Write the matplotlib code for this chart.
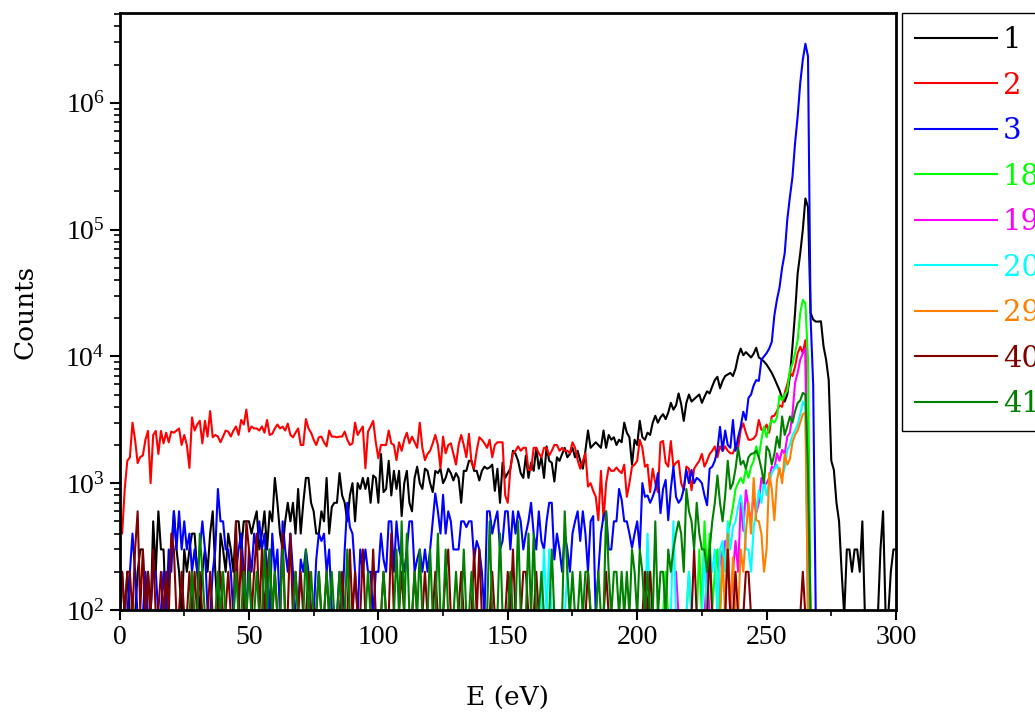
import numpy as np
import matplotlib
matplotlib.use("Agg")
import matplotlib.pyplot as plt
from matplotlib.ticker import MultipleLocator, LogLocator, NullFormatter

# counts per 1 eV bin
E_1 = np.arange(0, 301)
counts_1 = [
    200, 200, 0, 200, 0, 100, 0, 200, 300, 300,
    0, 200, 0, 500, 200, 600, 300, 300, 0, 200,
    300, 600, 300, 200, 0, 300, 200, 300, 400, 400,
    200, 0, 200, 300, 200, 400, 600, 200, 0, 400,
    300, 200, 400, 300, 200, 500, 500, 300, 500, 500,
    500, 400, 500, 600, 300, 400, 600, 300, 600, 500,
    1100, 700, 400, 300, 500, 700, 500, 700, 400, 900,
    400, 700, 1100, 1100, 700, 600, 400, 400, 600, 500,
    1100, 400, 650, 700, 700, 1200, 800, 700, 500, 800,
    1000, 500, 1000, 900, 1100, 900, 1100, 700, 1150, 1100,
    700, 1700, 850, 900, 1500, 800, 1250, 900, 1250, 550,
    1000, 1250, 700, 600, 1100, 1350, 1000, 900, 1300, 1250,
    1000, 850, 1250, 1200, 1300, 1000, 1100, 1300, 1200, 1050,
    1200, 1100, 700, 1250, 1250, 1500, 1500, 1250, 1250, 1050,
    1250, 1350, 1300, 1330, 1400, 870, 1300, 700, 1450, 1100,
    1200, 1300, 1800, 1700, 1500, 1200, 1100, 1650, 1100, 1450,
    1250, 1900, 1300, 1600, 1100, 1950, 1500, 1450, 1030, 1600,
    1500, 1700, 1900, 1600, 1700, 1900, 1600, 1800, 1500, 1300,
    1800, 2600, 1900, 2000, 2100, 2000, 1900, 2600, 1900, 2400,
    2200, 2300, 2000, 2200, 2100, 3000, 2500, 2300, 1400, 2200,
    2000, 3100, 2300, 2200, 2500, 2400, 3000, 3400, 3000, 3300,
    3500, 3200, 3600, 4300, 3800, 4100, 5100, 4200, 3100, 4300,
    5000, 4400, 4600, 4800, 5000, 4300, 4800, 5300, 5100, 5800,
    6500, 6900, 5600, 6400, 7000, 7200, 7400, 7000, 8000, 10000,
    11500, 10200, 10800, 10300, 9800, 10500, 11700, 9800, 9500, 9100,
    8600, 8000, 7400, 6700, 6000, 5400, 4700, 4400, 5000, 7000,
    12000, 22000, 45000, 65000, 100000, 176000, 150000, 22000, 19500, 18800,
    18800, 18900, 12000, 9400, 6500, 1500, 1270, 700, 500, 200,
    0, 300, 300, 200, 300, 300, 200, 500, 0, 0,
    0, 0, 0, 0, 300, 600, 0, 0, 200, 300,
    300,
]

E_2 = np.arange(0, 268)
counts_2 = [
    780, 400, 900, 1500, 1600, 3000, 2200, 1440, 1610, 1650,
    2200, 2580, 1000, 2400, 2580, 1700, 2580, 2060, 2500, 2100,
    2550, 2500, 2600, 2700, 2000, 2400, 2000, 1320, 3300, 2600,
    2900, 3100, 2060, 3100, 2330, 3700, 2300, 2400, 2330, 2100,
    2330, 2600, 2550, 2330, 2600, 2800, 2400, 3150, 2900, 3800,
    2550, 2800, 2700, 2700, 2600, 2800, 2500, 3150, 2400, 2450,
    2700, 2900, 2700, 2790, 2600, 2950, 2400, 2300, 2500, 2700,
    2000, 2000, 3200, 2700, 2500, 2200, 2000, 2300, 2330, 2100,
    1950, 2600, 2330, 2330, 2300, 2330, 2330, 2550, 2200, 2000,
    2060, 3000, 2400, 2600, 2800, 1310, 2550, 2800, 3100, 2100,
    1570, 2000, 2000, 2000, 2600, 2060, 2000, 1520, 2100, 1800,
    2200, 2500, 2060, 2330, 2100, 1900, 3000, 1900, 1520, 1700,
    1800, 2060, 2400, 2000, 1310, 2330, 1720, 2000, 2060, 1700,
    1400, 2000, 2400, 2000, 1600, 2450, 1450, 1310, 1800, 2300,
    2200, 2060, 1900, 2200, 1600, 2000, 2100, 2100, 2100, 800,
    700, 1300, 1720, 1800, 1950, 1800, 1900, 1900, 1270, 1270,
    1900, 1900, 1720, 1600, 1900, 1900, 1650, 1800, 2000, 2000,
    1800, 1900, 1800, 1800, 1720, 2100, 1900, 1520, 1300, 1500,
    1720, 940, 1000, 870, 780, 510, 1250, 510, 1000, 1330,
    1250, 1250, 1330, 1250, 1200, 1400, 780, 1000, 1350, 1400,
    1500, 2200, 1900, 1350, 1400, 850, 1300, 1000, 850, 2100,
    2150, 1450, 1350, 2150, 1350, 1450, 1500, 1000, 880, 1350,
    1300, 880, 1300, 1400, 1500, 1700, 1350, 1500, 1700, 1800,
    1950, 1600, 1950, 1800, 1950, 1800, 1720, 1720, 1950, 1900,
    2640, 2960, 2500, 2200, 2200, 2250, 2400, 3150, 2640, 2600,
    2900, 2500, 3360, 3400, 3700, 4100, 4000, 5150, 6000, 7400,
    7000, 8300, 10600, 11900, 10600, 13400, 400, 0,
]

E_3 = np.arange(0, 270)
counts_3 = [
    0, 100, 0, 0, 200, 400, 200, 0, 100, 0,
    200, 0, 100, 200, 200, 0, 100, 200, 0, 300,
    200, 600, 300, 600, 300, 500, 300, 400, 200, 300,
    200, 300, 500, 300, 100, 0, 200, 300, 900, 500,
    500, 300, 300, 200, 0, 200, 300, 400, 200, 0,
    300, 200, 400, 300, 500, 300, 400, 200, 0, 400,
    200, 300, 0, 500, 300, 200, 400, 200, 0, 100,
    250, 200, 300, 200, 100, 0, 250, 400, 350, 400,
    200, 300, 100, 0, 0, 200, 0, 300, 700, 450,
    400, 200, 0, 300, 200, 300, 200, 200, 0, 200,
    200, 400, 250, 200, 500, 500, 200, 500, 300, 250,
    200, 300, 500, 500, 200, 250, 300, 200, 300, 200,
    300, 500, 830, 600, 400, 810, 400, 600, 500, 300,
    300, 300, 500, 500, 450, 500, 500, 250, 350, 300,
    200, 0, 600, 600, 400, 500, 600, 300, 350, 600,
    600, 300, 600, 400, 600, 500, 300, 400, 500, 700,
    400, 300, 600, 350, 300, 500, 700, 700, 250, 400,
    300, 200, 400, 300, 200, 400, 500, 600, 350, 600,
    400, 200, 500, 550, 0, 200, 400, 550, 600, 300,
    300, 500, 500, 900, 740, 500, 500, 400, 310, 400,
    500, 300, 1000, 780, 800, 700, 780, 900, 1200, 580,
    900, 1060, 510, 900, 1350, 780, 700, 750, 900, 1270,
    1000, 1270, 1000, 1100, 1060, 1000, 800, 670, 1300, 1350,
    1500, 1830, 2780, 1800, 2600, 2000, 1900, 3150, 1800, 2300,
    2800, 3660, 3150, 4700, 5000, 5900, 6500, 6400, 9400, 10000,
    10600, 11500, 13000, 21000, 28000, 35000, 50000, 65000, 120000, 180000,
    260000, 480000, 780000, 1430000, 2190000, 2920000, 2320000, 20000, 6000, 0,
]

E_18 = np.arange(200, 268)
counts_18 = [
    0, 0, 0, 0, 0, 200, 0, 0, 0, 0,
    0, 200, 0, 0, 0, 100, 0, 0, 0, 0,
    200, 0, 100, 0, 300, 0, 500, 200, 400, 100,
    200, 300, 0, 300, 300, 400, 500, 650, 900, 1000,
    1100, 1000, 1300, 1100, 1350, 1500, 1950, 1600, 2200, 2800,
    2300, 2800, 3150, 3000, 3300, 4900, 4500, 5000, 5350, 7800,
    8700, 10600, 13400, 22000, 27900, 26000, 9400, 0,
]

E_19 = np.arange(215, 267)
counts_19 = [
    200, 0, 0, 0, 0,
    0, 0, 0, 0, 0, 0, 0, 200, 0, 0,
    0, 0, 300, 200, 350, 300, 0, 200, 350, 200,
    700, 420, 880, 640, 500, 800, 580, 700, 1100, 950,
    1000, 1100, 1350, 1300, 1720, 1500, 1830, 1700, 2330, 2500,
    3500, 6200, 7400, 9400, 10600, 11500, 0,
]

E_20 = np.arange(160, 267)
counts_20 = [
    0, 0, 0, 0, 300, 0, 300, 0, 0, 0,
    0, 0, 0, 200, 0, 0, 0, 0, 0, 0,
    0, 0, 0, 0, 0, 0, 0, 0, 0, 0,
    0, 0, 0, 0, 0, 0, 0, 0, 0, 0,
    0, 0, 0, 0, 400, 0, 0, 0, 0, 0,
    0, 0, 0, 0, 500, 0, 0, 0, 0, 0,
    200, 0, 0, 0, 0, 0, 300, 0, 300, 200,
    300, 0, 300, 350, 200, 500, 300, 450, 500, 650,
    800, 600, 300, 300, 200, 450, 600, 880, 700, 1060,
    800, 1000, 1200, 1300, 1400, 1200, 1130, 1320, 1830, 2000,
    2400, 2600, 2900, 3500, 4400, 4000, 0,
]

E_29 = np.arange(230, 267)
counts_29 = [
    0, 0, 0, 260, 0, 400, 0, 260, 0, 0,
    300, 200, 400, 700, 400, 1100, 510, 500, 400, 200,
    300, 1200, 900, 510, 1060, 1320, 1000, 1700, 1400, 1550,
    2100, 2400, 2600, 3000, 3500, 3600, 0,
]

E_40 = np.arange(0, 266)
counts_40 = [
    0, 200, 0, 200, 200, 0, 300, 600, 100, 300,
    0, 200, 0, 300, 0, 100, 200, 0, 200, 0,
    400, 300, 0, 100, 200, 0, 0, 200, 0, 200,
    0, 200, 0, 100, 0, 200, 0, 0, 100, 200,
    0, 100, 200, 0, 0, 500, 0, 300, 0, 500,
    300, 0, 200, 400, 0, 300, 0, 200, 300, 0,
    200, 0, 0, 400, 0, 100, 400, 0, 200, 0,
    200, 0, 0, 200, 0, 0, 100, 200, 0, 0,
    200, 0, 0, 0, 100, 0, 200, 0, 0, 300,
    0, 200, 0, 0, 300, 0, 0, 100, 300, 0,
    0, 0, 200, 0, 0, 400, 0, 0, 100, 200,
    0, 0, 0, 0, 200, 0, 0, 0, 200, 0,
    0, 0, 200, 0, 0, 0, 200, 300, 0, 0,
    0, 100, 200, 0, 0, 0, 0, 300, 0, 300,
    0, 0, 0, 0, 200, 0, 0, 0, 0, 0,
    200, 0, 300, 0, 0, 0, 200, 200, 0, 0,
    0, 200, 0, 0, 0, 0, 0, 0, 0, 0,
    0, 0, 0, 0, 0, 0, 0, 0, 0, 0,
    0, 200, 0, 0, 0, 0, 0, 0, 200, 0,
    0, 0, 0, 0, 0, 0, 0, 0, 0, 0,
    0, 0, 0, 200, 0, 200, 0, 0, 0, 0,
    0, 0, 0, 0, 0, 0, 0, 0, 0, 0,
    0, 0, 300, 0, 0, 0, 0, 0, 300, 0,
    0, 0, 0, 0, 0, 300, 0, 0, 200, 0,
    0, 0, 200, 200, 0, 0, 0, 0, 0, 0,
    0, 0, 0, 0, 0, 0, 0, 0, 0, 0,
    0, 0, 0, 0, 200, 0,
]

E_41 = np.arange(0, 268)
counts_41 = [
    0, 0, 0, 0, 0, 0, 0, 0, 0, 0,
    0, 0, 0, 0, 0, 0, 0, 0, 0, 0,
    0, 0, 0, 0, 0, 0, 0, 0, 200, 0,
    0, 400, 200, 0, 0, 0, 0, 0, 200, 0,
    200, 0, 0, 0, 0, 200, 0, 0, 200, 0,
    200, 0, 0, 200, 0, 0, 300, 0, 300, 0,
    200, 0, 0, 300, 0, 0, 0, 0, 200, 0,
    0, 0, 300, 0, 200, 0, 0, 200, 0, 0,
    200, 0, 200, 0, 0, 200, 0, 0, 300, 0,
    0, 0, 0, 0, 0, 0, 200, 0, 0, 0,
    0, 0, 200, 0, 0, 0, 0, 300, 0, 500,
    0, 400, 0, 0, 200, 0, 300, 0, 0, 0,
    300, 0, 0, 400, 0, 0, 300, 0, 0, 0,
    200, 0, 0, 300, 0, 0, 200, 0, 0, 0,
    0, 0, 0, 500, 0, 0, 0, 400, 0, 0,
    0, 200, 0, 0, 500, 0, 0, 0, 400, 0,
    400, 0, 0, 200, 0, 0, 0, 300, 0, 0,
    0, 0, 600, 200, 0, 200, 0, 0, 200, 0,
    200, 200, 100, 0, 0, 200, 0, 0, 600, 200,
    0, 200, 200, 0, 200, 0, 200, 0, 300, 200,
    0, 300, 200, 0, 200, 0, 0, 500, 0, 200,
    200, 0, 300, 200, 300, 400, 500, 400, 200, 900,
    600, 500, 300, 700, 400, 300, 300, 200, 300, 500,
    700, 1150, 700, 500, 800, 1500, 900, 1000, 1300, 1900,
    1400, 1500, 1300, 1600, 1700, 1720, 1800, 1600, 1300, 1000,
    1950, 1800, 1400, 1700, 2330, 1900, 3360, 2400, 2800, 3360,
    3000, 3700, 4280, 4500, 5150, 5000, 1200, 0,
]

labels = ["1", "2", "3", "18", "19", "20", "29", "40", "41"]
energies = [E_1, E_2, E_3, E_18, E_19, E_20, E_29, E_40, E_41]
counts = [counts_1, counts_2, counts_3, counts_18, counts_19, counts_20,
          counts_29, counts_40, counts_41]
colors = ["#000000", "#FF0000", "#0000FF", "#00FF00", "#FF00FF", "#00FFFF",
          "#FF8000", "#800000", "#008000"]

plt.rcParams["font.family"] = ["Liberation Serif", "DejaVu Serif"]
plt.rcParams["mathtext.default"] = "regular"

fig = plt.figure(figsize=(10.35, 7.15), dpi=100)
ax = fig.add_axes([0.1155, 0.1469, 0.7502, 0.8349])

for lab, e, c, col in zip(labels, energies, counts, colors):
    # empty bins sit just under the 10^2 floor so the line dips off the axis
    y = np.clip(np.asarray(c, dtype=float), 90, None)
    ax.plot(e, y, color=col, lw=1.5, label=lab)

ax.set_yscale("log")
ax.set_xlim(0, 300)
ax.set_ylim(100, 5.1e6)
ax.xaxis.set_major_locator(MultipleLocator(50))
ax.xaxis.set_minor_locator(MultipleLocator(25))
ax.yaxis.set_minor_locator(LogLocator(base=10, subs=np.arange(2, 10), numticks=20))
ax.yaxis.set_minor_formatter(NullFormatter())
ax.set_yticks([1e2, 1e3, 1e4, 1e5, 1e6])

ax.tick_params(which="major", direction="out", length=7, width=1.5, labelsize=20)
ax.tick_params(which="minor", direction="out", length=4, width=1.2)
for sp in ax.spines.values():
    sp.set_linewidth(2)

ax.set_xlabel("E (eV)", family="DejaVu Serif", fontsize=19, labelpad=26)
ax.set_ylabel("Counts", family="DejaVu Serif", fontsize=19, labelpad=20)

leg = ax.legend(loc="upper left", bbox_to_anchor=(902 / 1035, 1 - 13 / 715),
                bbox_transform=fig.transFigure, fancybox=False, framealpha=1,
                edgecolor="black", borderpad=0.45, borderaxespad=0,
                handlelength=2.8, handletextpad=0.2, labelspacing=0.6,
                prop={"family": "DejaVu Serif", "size": 21})
leg.get_frame().set_linewidth(1.0)
for txt, ln in zip(leg.get_texts(), leg.get_lines()):
    txt.set_color(ln.get_color())

fig.savefig("out.png", dpi=100)
